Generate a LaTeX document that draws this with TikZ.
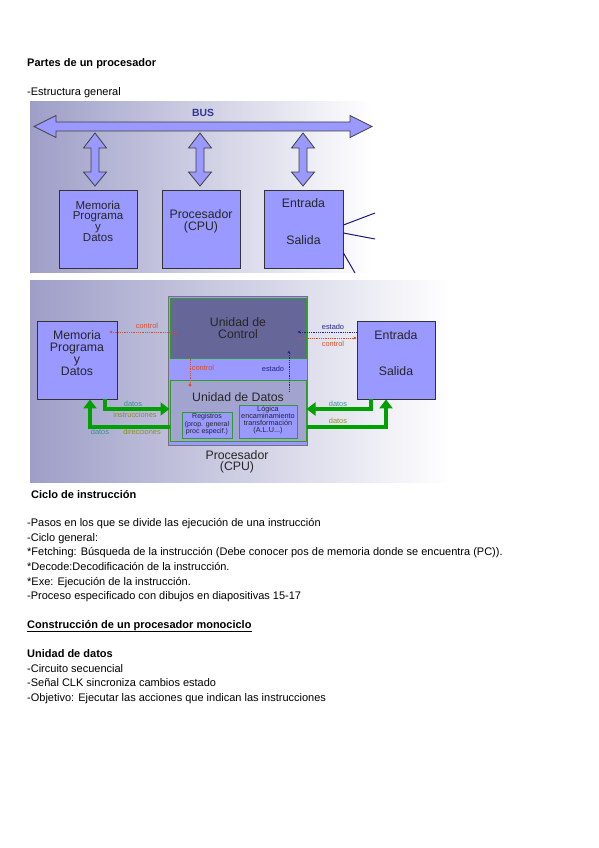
\documentclass[tikz,border=0pt]{standalone}
\usepackage{fontspec}
\setmainfont{Liberation Sans}
\usetikzlibrary{arrows.meta,positioning}

\definecolor{boxblue}{HTML}{9999FF}
\definecolor{ctrlgray}{HTML}{666699}
\definecolor{datgray}{HTML}{A3A3CF}
\definecolor{bgleft}{HTML}{9E9EC8}
\definecolor{busblue}{HTML}{333399}
\definecolor{unitgreen}{HTML}{339933}
\definecolor{linkgreen}{HTML}{00A000}
\definecolor{ctrlred}{HTML}{D2502A}
\definecolor{statblue}{HTML}{22228A}
\definecolor{wireblue}{HTML}{1A1A80}
\definecolor{labteal}{HTML}{3A8F9A}
\definecolor{labolive}{HTML}{8E8E22}

\begin{document}
\begin{tikzpicture}[
    x=1pt, y=-1pt,
    txt/.style={anchor=base west,inner sep=0pt,font=\fontsize{11}{12}\selectfont},
    head/.style={anchor=base west,inner sep=0pt,font=\fontsize{11}{12}\selectfont\bfseries},
    unitbox/.style={draw=black!80,fill=boxblue,line width=0.9pt,inner sep=0pt},
    boxtxt/.style={align=center,inner sep=0pt,text=black!85},
    fatarrow/.style={draw=black!75,fill=boxblue,line width=0.8pt,line join=miter},
    gbox/.style={draw=unitgreen,line width=1pt,inner sep=0pt},
    tag/.style={inner sep=0pt,font=\fontsize{7.4}{7}\selectfont},
    ctrlarr/.style={-{Stealth[length=3pt,width=3pt]},ctrlred,densely dotted,line width=0.8pt},
    statarr/.style={-{Stealth[length=3pt,width=3pt]},statblue,densely dotted,line width=0.8pt},
    datarr/.style={-{Triangle[length=9pt,width=13pt]},linkgreen,line width=4pt},
    wire/.style={wireblue,line width=1pt}
]
\useasboundingbox (0,0) rectangle (599,848);
\fill[white] (0,0) rectangle (599,848);

% texto de la pagina
\node[head] (t1) at (27,67) {Partes de un procesador};
\node[txt] (t2) at (27,96) {-Estructura general};

% estructura general
\shade[left color=bgleft,middle color=bgleft!22,right color=white] (30,102) rectangle (373,272);
\filldraw[fatarrow] (34,126.5) -- (56,115.5) -- (56,122) -- (350,122) -- (350,115.5) -- (372,126.5)
    -- (350,137.5) -- (350,131) -- (56,131) -- (56,137.5) -- cycle;
\node[font=\fontsize{10.4}{12}\selectfont\bfseries,text=busblue,inner sep=0pt] (bus) at (203,113) {BUS};
\foreach \x in {95,200,303} {
  \filldraw[fatarrow] (\x,133) -- ({\x+11.5},148) -- ({\x+4},148) -- ({\x+4},172) -- ({\x+11.5},172)
      -- (\x,186) -- ({\x-11.5},172) -- ({\x-4},172) -- ({\x-4},148) -- ({\x-11.5},148) -- cycle;
}
\node[unitbox,minimum width=78,minimum height=78] (mem1) at (98,229) {};
\node[unitbox,minimum width=78,minimum height=78] (proc1) at (201,229) {};
\node[unitbox,minimum width=79,minimum height=78] (es1) at (303.5,229) {};
\node[boxtxt,font=\fontsize{11.5}{10.6}\selectfont] (mem1t) at (98,221) {Memoria\\Programa\\y\\Datos};
\node[boxtxt,font=\fontsize{12.3}{12}\selectfont] (proc1t) at (201,221) {Procesador\\(CPU)};
\node[boxtxt,font=\fontsize{12.3}{12}\selectfont] (es1a) at (303.5,203) {Entrada};
\node[boxtxt,font=\fontsize{12.3}{12}\selectfont] (es1b) at (303.5,240) {Salida};
\coordinate (o1) at (375,213);
\coordinate (o2) at (375,239);
\coordinate (o3) at (355,273);
\draw[wire] ([yshift=4pt]es1.east) -- (o1);
\draw[wire] ([yshift=-4pt]es1.east) -- (o2);
\draw[wire] ([yshift=-24pt]es1.east) -- (o3);

% procesador detallado
\shade[left color=bgleft,middle color=bgleft!22,right color=white] (30,280) rectangle (450,482);
\node[draw=black!55,fill=boxblue,line width=1pt,minimum width=139,minimum height=149,inner sep=0pt] (cpu) at (237.5,370.5) {};
\node[gbox,fill=ctrlgray,minimum width=136,minimum height=60] (ctrl) at (238,328) {};
\node[gbox,fill=datgray,minimum width=136,minimum height=61] (dat) at (238,410.5) {};
\node[gbox,fill=boxblue,minimum width=50,minimum height=26] (reg) at (207,425) {};
\node[gbox,fill=boxblue,minimum width=58,minimum height=33] (alu) at (268,421.5) {};
\node[boxtxt,font=\fontsize{12.3}{12}\selectfont] (ctrlt) at (238,328) {Unidad de\\Control};
\node[boxtxt,font=\fontsize{12.3}{12}\selectfont] (datt) at (238,397) {Unidad de Datos};
\node[boxtxt,font=\fontsize{7}{6.3}\selectfont] (regt) at (207,424.5) {Registros\\(prop. general\\proc especif.)};
\node[boxtxt,font=\fontsize{7.3}{7}\selectfont] (alut) at (268,420.5) {Lógica\\encaminamiento\\transformación\\(A.L.U...)};
\node[boxtxt,font=\fontsize{12.3}{11.5}\selectfont] (cput) at (237,462) {Procesador\\(CPU)};

\node[unitbox,minimum width=80,minimum height=78] (mem2) at (77,360) {};
\node[unitbox,minimum width=78,minimum height=78] (es2) at (396,360) {};
\node[boxtxt,font=\fontsize{12.3}{12}\selectfont] (mem2t) at (77,353) {Memoria\\Programa\\y\\Datos};
\node[boxtxt,font=\fontsize{12.3}{12}\selectfont] (es2a) at (396,335) {Entrada};
\node[boxtxt,font=\fontsize{12.3}{12}\selectfont] (es2b) at (396,371) {Salida};

% senales de control y estado
\draw[ctrlarr] ([xshift=7pt,yshift=-4pt]ctrl.west) -- ([xshift=-8pt,yshift=28pt]mem2.east);
\draw[ctrlred,densely dotted,line width=0.8pt,-{Circle[length=3pt]}] ([xshift=-48pt]ctrl.south) -- ([xshift=-48pt,yshift=-7pt]dat.north);
\draw[statarr] ([xshift=51pt,yshift=-12pt]dat.north) -- ([xshift=51pt,yshift=8pt]ctrl.south);
\draw[statarr] ([yshift=28pt]es2.west) -- ([xshift=-9pt,yshift=-4pt]ctrl.east);
\draw[ctrlarr] ([xshift=-9pt,yshift=-10pt]ctrl.east) -- ([yshift=22pt]es2.west);
\node[tag,text=ctrlred] (c1) at (147,326) {control};
\node[tag,text=ctrlred] (c2) at (203,368) {control};
\node[tag,text=statblue] (s1) at (273,369) {estado};
\node[tag,text=statblue] (s2) at (333,327) {estado};
\node[tag,text=ctrlred] (c3) at (333,344) {control};

% buses de datos
\draw[datarr] ([xshift=28pt]mem2.south) |- ([yshift=1.5pt]dat.west);
\draw[datarr] ([yshift=-16.5pt]dat.west) -| ([xshift=13pt]mem2.south);
\draw[datarr] ([xshift=-25pt]es2.south) |- ([yshift=1.5pt]dat.east);
\draw[datarr] ([yshift=-16.5pt]dat.east) -| ([xshift=-10pt]es2.south);
\node[tag,text=labteal] (d1) at (133,404) {datos};
\node[tag,text=labolive] (d2) at (135,415) {instrucciones};
\node[tag,text=labteal] (d3) at (100,432) {datos};
\node[tag,text=labolive] (d4) at (142,432) {direcciones};
\node[tag,text=labteal] (d5) at (338,404) {datos};
\node[tag,text=labolive] (d6) at (338,421) {datos};

% ciclo de instruccion
\node[head] (t3) at (31,498) {Ciclo de instrucción};
\node[txt] (t4) at (27,526) {-Pasos en los que se divide las ejecución de una instrucción};
\node[txt] (t5) at (27,541) {-Ciclo general:};
\node[txt] (t6) at (27,555) {*Fetching: Búsqueda de la instrucción (Debe conocer pos de memoria donde se encuentra (PC)).};
\node[txt] (t7) at (27,570) {*Decode:Decodificación de la instrucción.};
\node[txt] (t8) at (27,585) {*Exe: Ejecución de la instrucción.};
\node[txt] (t9) at (27,599) {-Proceso especificado con dibujos en diapositivas 15-17};
\node[head] (t10) at (27,628) {\underline{Construcción de un procesador monociclo}};
\node[head] (t11) at (27,657) {Unidad de datos};
\node[txt] (t12) at (27,672) {-Circuito secuencial};
\node[txt] (t13) at (27,686) {-Señal CLK sincroniza cambios estado};
\node[txt] (t14) at (27,701) {-Objetivo: Ejecutar las acciones que indican las instrucciones};
\end{tikzpicture}
\end{document}
